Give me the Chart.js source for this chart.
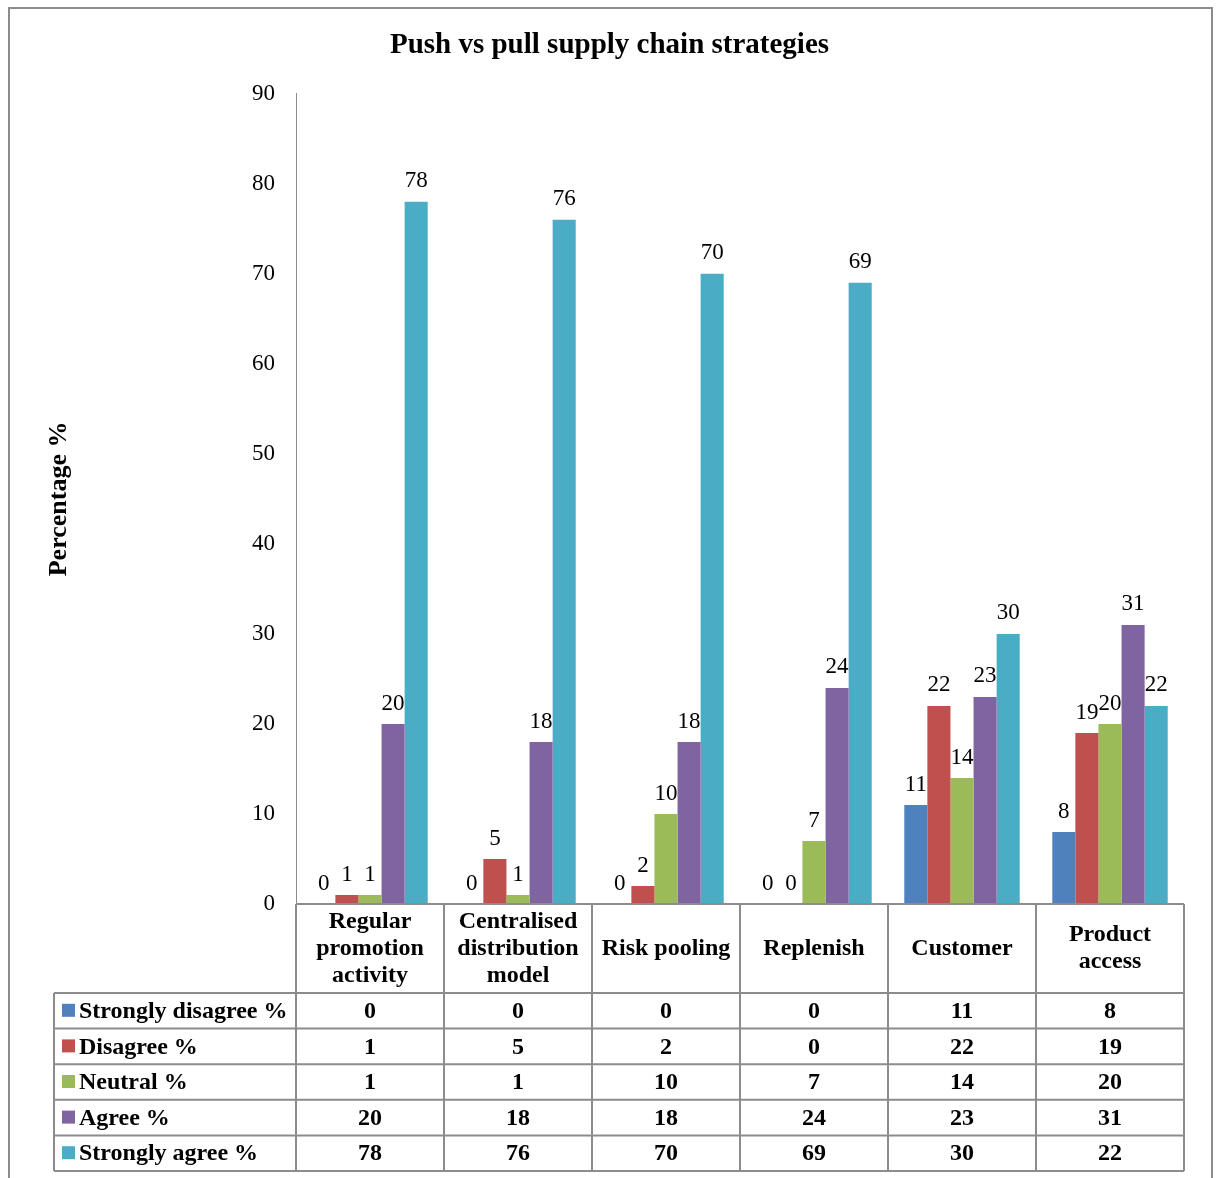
<!DOCTYPE html>
<html lang="en">
<head>
<meta charset="UTF-8">
<title>Push vs pull supply chain strategies</title>
<script src="https://cdn.jsdelivr.net/npm/chart.js"></script>
<style>
    body { margin: 0; background: #fff; }
    .frame { position: relative; width: 1219px; height: 1178px; overflow: hidden; }
    .box { position: absolute; left: 8px; top: 7px; width: 1205px; height: 1220px; border: 2px solid #8c8c8c; box-sizing: border-box; }
    canvas { position: absolute; left: 0; top: 0; }
</style>
</head>
<body>
<div class="frame">
    <div class="box"></div>
    <canvas id="chart" width="1219" height="1178"></canvas>
</div>
<script>
// categories (multi-line header text) and one array per response level
const categories = [
    ["Regular", "promotion", "activity"],
    ["Centralised", "distribution", "model"],
    ["Risk pooling"],
    ["Replenish"],
    ["Customer"],
    ["Product", "access"]
];
const seriesNames = ["Strongly disagree %", "Disagree %", "Neutral %", "Agree %", "Strongly agree %"];
const stronglyDisagree = [0, 0, 0, 0, 11, 8];
const disagree = [1, 5, 2, 0, 22, 19];
const neutral = [1, 1, 10, 7, 14, 20];
const agree = [20, 18, 18, 24, 23, 31];
const stronglyAgree = [78, 76, 70, 69, 30, 22];
const yTicks = [0, 10, 20, 30, 40, 50, 60, 70, 80, 90];

const colors = ["#4f81bd", "#c0504d", "#9bbb59", "#8064a2", "#4bacc6"];
const serif = "'Liberation Serif', 'Times New Roman', serif";
Chart.defaults.font.family = serif;
Chart.defaults.color = "#000";

// value above every bar
const barValues = {
    id: "barValues",
    afterDatasetsDraw(chart) {
        const ctx = chart.ctx;
        ctx.save();
        ctx.font = "23px " + serif;
        ctx.fillStyle = "#000";
        ctx.textAlign = "center";
        ctx.textBaseline = "bottom";
        chart.data.datasets.forEach((ds, i) => {
            chart.getDatasetMeta(i).data.forEach((bar, j) => {
                ctx.fillText(String(ds.data[j]), bar.x, bar.y - 9);
            });
        });
        ctx.restore();
    }
};

// data table under the plot, columns follow the x scale
const dataTable = {
    id: "dataTable",
    afterDraw(chart) {
        const ctx = chart.ctx;
        const area = chart.chartArea;
        const xs = chart.scales.x;
        const labels = chart.data.labels;
        const sets = chart.data.datasets;
        const headerH = 89, rowH = 35.6, keyLeft = 54;
        const colW = (area.right - area.left) / labels.length;
        const top = area.bottom;
        const rowsTop = top + headerH;
        const bottom = rowsTop + rowH * sets.length;

        ctx.save();
        ctx.strokeStyle = "#8c8c8c";
        ctx.lineWidth = 2;
        ctx.beginPath();
        ctx.moveTo(area.left, top);
        ctx.lineTo(area.right, top);
        for (let i = 0; i <= labels.length; i++) {
            const bx = area.left + colW * i;
            ctx.moveTo(bx, top);
            ctx.lineTo(bx, bottom);
        }
        for (let r = 0; r <= sets.length; r++) {
            const y = rowsTop + rowH * r;
            ctx.moveTo(keyLeft, y);
            ctx.lineTo(area.right, y);
        }
        ctx.moveTo(keyLeft, rowsTop);
        ctx.lineTo(keyLeft, bottom);
        ctx.stroke();

        ctx.fillStyle = "#000";
        ctx.textAlign = "center";
        ctx.textBaseline = "middle";
        ctx.font = "bold 24px " + serif;
        const lineH = 27;
        labels.forEach((lines, i) => {
            const cx = xs.getPixelForValue(i);
            const y0 = top + headerH / 2 - (lines.length - 1) * lineH / 2;
            lines.forEach((t, k) => ctx.fillText(t, cx, y0 + k * lineH));
        });

        ctx.font = "bold 24px " + serif;
        sets.forEach((ds, r) => {
            const cy = rowsTop + rowH * r + rowH / 2;
            ds.data.forEach((v, i) => {
                ctx.fillText(String(v), xs.getPixelForValue(i), cy + 1);
            });
            ctx.fillStyle = ds.backgroundColor;
            ctx.fillRect(keyLeft + 8, cy - 7, 13, 13);
            ctx.fillStyle = "#000";
            ctx.textAlign = "left";
            ctx.fillText(ds.label, keyLeft + 25, cy + 1);
            ctx.textAlign = "center";
        });
        ctx.restore();
    }
};

const seriesData = [stronglyDisagree, disagree, neutral, agree, stronglyAgree];

new Chart(document.getElementById("chart"), {
    type: "bar",
    data: {
        labels: categories,
        datasets: seriesNames.map((name, i) => ({
            label: name,
            data: seriesData[i],
            backgroundColor: colors[i],
            categoryPercentage: 0.78,
            barPercentage: 1.0
        }))
    },
    options: {
        responsive: false,
        animation: false,
        layout: { padding: { left: 0, right: 0, top: 0, bottom: 274 } },
        plugins: {
            legend: { display: false },
            tooltip: { enabled: false },
            title: {
                display: true,
                text: "Push vs pull supply chain strategies",
                font: { size: 29, weight: "bold", family: serif },
                color: "#000",
                padding: { top: 28, bottom: 31 }
            }
        },
        scales: {
            x: { display: false },
            y: {
                min: 0,
                max: 90,
                afterBuildTicks(scale) {
                    scale.ticks = yTicks.map(v => ({ value: v }));
                },
                afterFit(scale) { scale.width = 296; },
                grid: { display: false, drawTicks: false },
                border: { display: true, color: "#8c8c8c", width: 1 },
                ticks: { padding: 21, font: { size: 23 }, color: "#000" },
                title: {
                    display: true,
                    text: "Percentage %",
                    font: { size: 26, weight: "bold" },
                    color: "#000",
                    padding: { top: 44 }
                }
            },
            // empty right-hand margin so the title stays centred on the frame
            yRight: {
                position: "right",
                display: true,
                grid: { display: false, drawTicks: false },
                border: { display: false },
                ticks: { display: false },
                afterFit(scale) { scale.width = 35; }
            }
        }
    },
    plugins: [barValues, dataTable]
});
</script>
</body>
</html>
